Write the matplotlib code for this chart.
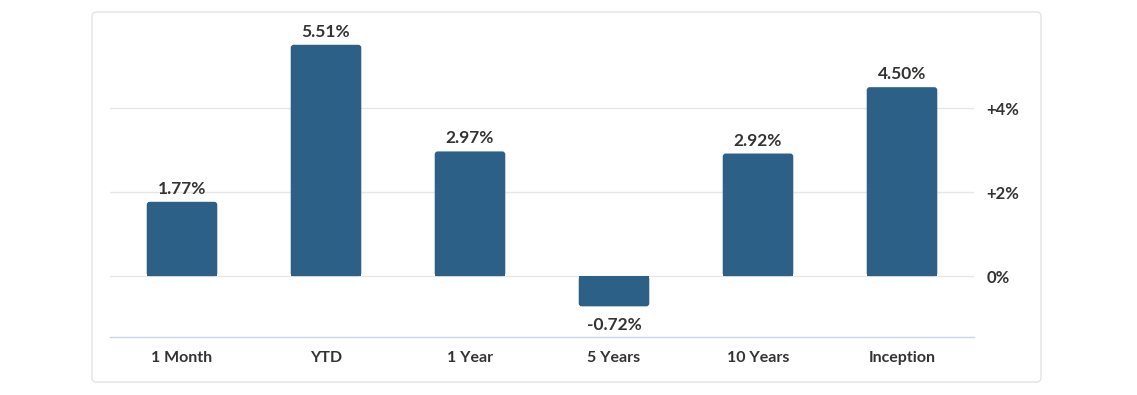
import matplotlib.pyplot as plt
from matplotlib.patches import FancyBboxPatch, Rectangle

# Returns by period (%)
periods = ["1 Month", "YTD", "1 Year", "5 Years", "10 Years", "Inception"]
returns = [1.77, 5.51, 2.97, -0.72, 2.92, 4.50]
tick_values = [0, 2, 4]
tick_labels = ["0%", "+2%", "+4%"]

bar_color = "#2c6086"
text_color = "#333333"

plt.rcParams["font.family"] = ["Lato", "DejaVu Sans"]

W, H = 1137, 395
fig = plt.figure(figsize=(W / 100, H / 100), dpi=100)

# card background with rounded border
card = FancyBboxPatch((92 / W, (H - 382) / H), (1041 - 92) / W, (382 - 12) / H,
                      boxstyle="round,pad=0,rounding_size=0.004",
                      mutation_aspect=W / H,
                      transform=fig.transFigure, facecolor="white",
                      edgecolor="#e3e3e3", linewidth=1.0, zorder=-5)
fig.patches.append(card)

ax = fig.add_axes([110 / W, (H - 337) / H, (974 - 110) / W, (337 - 20) / H])
ax.set_xlim(-0.5, len(periods) - 0.5)
ax.set_ylim(-1.45, 6.1)

# gridlines
for v in tick_values:
    ax.axhline(v, color="#e6e6e6", linewidth=1.0, zorder=0)

# bars with slightly rounded outer corners
bw = 0.49
x_per_px = 6 / 864
y_per_px = 7.55 / 317
bars = ax.bar(range(len(periods)), returns, width=bw, color=bar_color, zorder=2)
for b, val in zip(bars, returns):
    b.set_visible(False)
    x0 = b.get_x()
    y0, h = (0, val) if val >= 0 else (val, -val)
    rb = FancyBboxPatch((x0, y0), bw, h,
                        boxstyle=f"round,pad=0,rounding_size={3 * x_per_px}",
                        mutation_aspect=y_per_px / x_per_px,
                        facecolor=bar_color, edgecolor="none", zorder=2)
    ax.add_patch(rb)
    # square off the corners on the zero side
    sy = 0 if val >= 0 else val / 2
    ax.add_patch(Rectangle((x0, sy), bw, h / 2, facecolor=bar_color,
                           edgecolor="none", zorder=2))
    if val >= 0:
        ax.annotate(f"{val:.2f}%", (x0 + bw / 2, val), xytext=(0, 5),
                    textcoords="offset pixels", ha="center", va="bottom",
                    fontsize=12.5, fontweight="bold", color=text_color)
    else:
        ax.annotate(f"{val:.2f}%", (x0 + bw / 2, val), xytext=(0, -11),
                    textcoords="offset pixels", ha="center", va="top",
                    fontsize=12.5, fontweight="bold", color=text_color)

ax.set_xticks(range(len(periods)))
ax.set_xticklabels(periods, fontsize=11.5, fontweight="bold", color=text_color)
ax.tick_params(axis="x", length=0, pad=10)

ax.yaxis.tick_right()
ax.set_yticks(tick_values)
ax.set_yticklabels(tick_labels, fontsize=12, fontweight="bold", color=text_color)
ax.tick_params(axis="y", length=0, pad=9)

for s in ["top", "left", "right"]:
    ax.spines[s].set_visible(False)
ax.spines["bottom"].set_color("#ccd6eb")
ax.spines["bottom"].set_linewidth(1.0)
ax.patch.set_alpha(0)

fig.savefig("out.png", dpi=100)
